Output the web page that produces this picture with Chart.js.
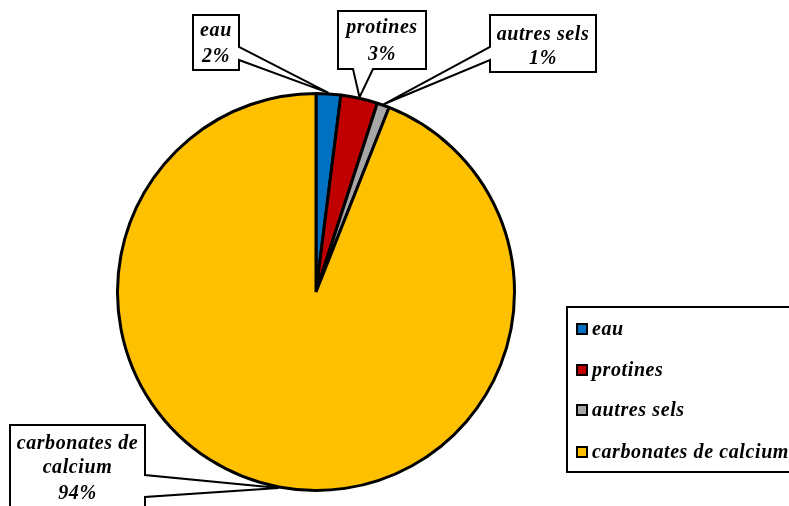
<!DOCTYPE html>
<html>
<head>
<meta charset="utf-8">
<script src="https://cdn.jsdelivr.net/npm/chart.js@4/dist/chart.umd.min.js"></script>
<style>
  html, body { margin: 0; padding: 0; background: #ffffff; }
  #wrap { width: 789px; height: 506px; position: relative; }
</style>
</head>
<body>
<div id="wrap"><canvas id="c" width="789" height="506"></canvas></div>
<script>
// Composition (%)
const categories = ['eau', 'protines', 'autres sels', 'carbonates de calcium'];
const values = [2, 3, 1, 94];
const colors = ['#0070C0', '#C00000', '#A6A6A6', '#FFC000'];

// Label lines shown inside each callout box (percentage appended)
const calloutLines = [['eau'], ['protines'], ['autres sels'], ['carbonates de', 'calcium']];

// Callout boxes: rectangle, side the pointer leaves from, and the two base points on that side
const callouts = [
  { box: [193, 15, 46, 55],  side: 'right',  base: [[239, 47], [239, 60]], lineY: [31, 57] },
  { box: [338, 11, 88, 58],  side: 'bottom', base: [[373, 69], [353, 69]], lineY: [28, 55] },
  { box: [490, 15, 106, 57], side: 'left',   base: [[490, 60], [490, 47]], lineY: [35, 59] },
  { box: [10, 425, 135, 95], side: 'right',  base: [[145, 475], [145, 497]], lineY: [444, 468, 494] }
];

const FONT = 'italic bold 20px "Liberation Serif", "Times New Roman", serif';

function calloutPath(ctx, c, tip) {
  const [x, y, w, h] = c.box;
  const corners = [[x, y], [x + w, y], [x + w, y + h], [x, y + h]];
  const sides = ['top', 'right', 'bottom', 'left'];
  ctx.beginPath();
  ctx.moveTo(corners[0][0], corners[0][1]);
  for (let i = 0; i < 4; i++) {
    if (sides[i] === c.side) {
      ctx.lineTo(c.base[0][0], c.base[0][1]);
      ctx.lineTo(tip[0], tip[1]);
      ctx.lineTo(c.base[1][0], c.base[1][1]);
    }
    const nxt = corners[(i + 1) % 4];
    ctx.lineTo(nxt[0], nxt[1]);
  }
  ctx.closePath();
}

const annotations = {
  id: 'annotations',
  afterDraw(chart) {
    const ctx = chart.ctx;
    const meta = chart.getDatasetMeta(0);
    const total = values.reduce((a, b) => a + b, 0);
    ctx.save();
    ctx.letterSpacing = '0.6px';
    ctx.font = FONT;
    ctx.textAlign = 'center';
    ctx.textBaseline = 'middle';
    meta.data.forEach((arc, i) => {
      const c = callouts[i];
      const mid = (arc.startAngle + arc.endAngle) / 2;
      const r = arc.outerRadius + 1;
      const tip = [arc.x + Math.cos(mid) * r, arc.y + Math.sin(mid) * r];
      calloutPath(ctx, c, tip);
      ctx.fillStyle = '#ffffff';
      ctx.fill();
      ctx.lineWidth = 2;
      ctx.strokeStyle = '#000000';
      ctx.lineJoin = 'miter';
      ctx.stroke();
      const lines = calloutLines[i].concat([Math.round(values[i] / total * 100) + '%']);
      ctx.fillStyle = '#000000';
      const cx = c.box[0] + c.box[2] / 2;
      lines.forEach((t, k) => ctx.fillText(t, cx, c.lineY[k]));
    });

    // Legend box
    ctx.lineWidth = 2;
    ctx.strokeStyle = '#000000';
    ctx.fillStyle = '#ffffff';
    ctx.beginPath();
    ctx.rect(567, 307, 240, 165);
    ctx.fill();
    ctx.stroke();
    const rowY = [329, 370, 410, 452];
    ctx.textAlign = 'left';
    categories.forEach((name, i) => {
      ctx.fillStyle = colors[i];
      ctx.fillRect(577, rowY[i] - 5, 10, 10);
      ctx.lineWidth = 2;
      ctx.strokeStyle = '#000000';
      ctx.strokeRect(577, rowY[i] - 5, 10, 10);
      ctx.fillStyle = '#000000';
      ctx.fillText(name, 592, rowY[i] + 1);
    });
    ctx.restore();
  }
};

new Chart(document.getElementById('c'), {
  type: 'pie',
  data: {
    labels: categories,
    datasets: [{
      data: values,
      backgroundColor: colors,
      borderColor: '#000000',
      borderWidth: 3,
      borderAlign: 'center'
    }]
  },
  options: {
    responsive: false,
    animation: false,
    layout: { padding: { left: 116, right: 273, top: 92, bottom: 14 } },
    plugins: {
      legend: { display: false },
      tooltip: { enabled: false }
    }
  },
  plugins: [annotations]
});
</script>
</body>
</html>
